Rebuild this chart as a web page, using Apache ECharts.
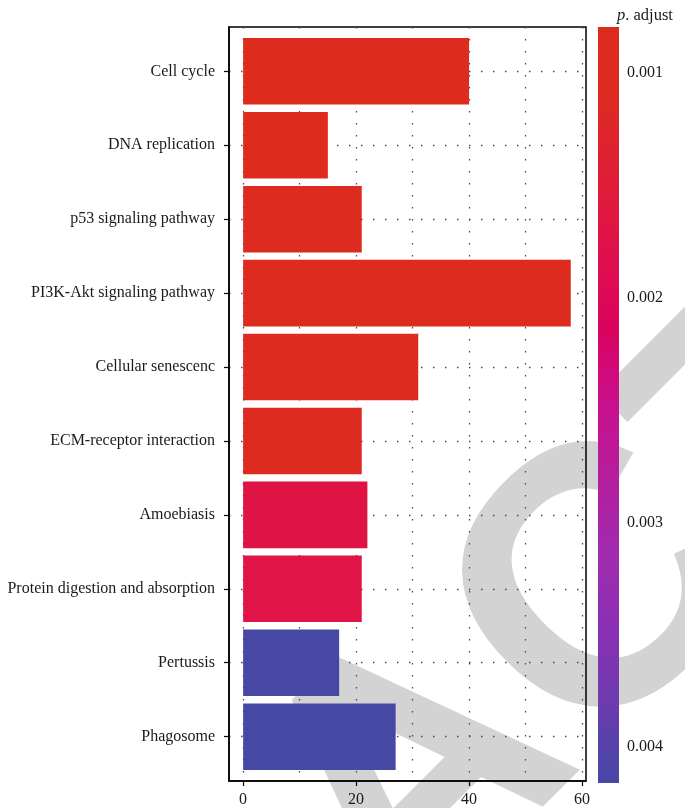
<!DOCTYPE html>
<html>
<head>
<meta charset="utf-8">
<script src="https://cdn.jsdelivr.net/npm/echarts@6/dist/echarts.min.js"></script>
<style>
html,body{margin:0;padding:0;background:#fff;}
#chart{width:685px;height:808px;}
</style>
</head>
<body>
<div id="chart"></div>
<script>
// ---- data ----
const categories = ['Cell cycle','DNA replication','p53 signaling pathway','PI3K-Akt signaling pathway','Cellular senescenc','ECM-receptor interaction','Amoebiasis','Protein digestion and absorption','Pertussis','Phagosome'];
const counts = [40, 15, 21, 58, 31, 21, 22, 21, 17, 27];
const pAdjust = [0.00080, 0.00082, 0.00085, 0.00088, 0.00100, 0.00105, 0.00170, 0.00172, 0.00414, 0.00416];
const xTickValues = [0, 20, 40, 60];
const xGridValues = [0, 10, 20, 30, 40, 50, 60];
const pTickValues = [0.001, 0.002, 0.003, 0.004];
const pRange = [0.000796, 0.00416];
const xRange = [-2.5, 60.7];
const palette = ['#DD2C1E','#DD2A22','#DF1E36','#E0104B','#DA035E','#C8108E','#B41E9E','#A02CAE','#8A30B4','#6A3CAD','#4549A5'];

const serif = '"Liberation Serif", "DejaVu Serif", serif';
const rows = categories.map((c, i) => [counts[i], i + 1, pAdjust[i]]);
const catTicks = categories.map((c, i) => i + 1);

const chart = echarts.init(document.getElementById('chart'), null, {renderer: 'canvas'});
const dotted = {color: '#4a4a4a', width: 1.3, type: [1.5, 10.5]};

const option = {
  animation: false,
  backgroundColor: '#fff',
  graphic: [{
    type: 'text', z: -100, silent: true,
    x: 421, y: 785, rotation: Math.PI / 4,
    style: {text: 'RETRACTED', fill: '#d3d3d3', font: 'bold 368px "Liberation Sans", Arial, sans-serif', textAlign: 'center', textVerticalAlign: 'middle'}
  }],
  title: {
    text: '{i|p}. adjust', left: 612, top: 2,
    textStyle: {fontFamily: serif, fontSize: 16.5, fontWeight: 'normal', color: '#1a1a1a',
      rich: {i: {fontFamily: serif, fontSize: 16.5, fontStyle: 'italic', color: '#1a1a1a'}}}
  },
  visualMap: {
    show: false, type: 'continuous', seriesIndex: 0, dimension: 2,
    min: pRange[0], max: pRange[1], inRange: {color: palette}
  },
  grid: [
    {left: 229, top: 27, width: 357, height: 755, show: true, borderColor: '#000', borderWidth: 1.5, backgroundColor: 'transparent'},
    {left: 598, top: 27, width: 21, height: 756, show: false}
  ],
  xAxis: [
    {type: 'value', gridIndex: 0, min: xRange[0], max: xRange[1],
      axisLine: {show: true, onZero: false, lineStyle: {color: '#000', width: 1.5}},
      axisTick: {show: true, customValues: xTickValues, length: 5, lineStyle: {color: '#000', width: 1.2}},
      axisLabel: {customValues: xTickValues, margin: 11, fontFamily: serif, fontSize: 16, color: '#1a1a1a'},
      splitLine: {show: false}},
    {type: 'value', gridIndex: 0, min: xRange[0], max: xRange[1], position: 'bottom',
      axisLine: {show: false, onZero: false}, axisLabel: {show: false},
      axisTick: {show: false, customValues: xGridValues},
      splitLine: {show: true, lineStyle: dotted}},
    {type: 'value', gridIndex: 1, min: 0, max: 1, show: false}
  ],
  yAxis: [
    {type: 'value', gridIndex: 0, min: 0.4, max: 10.6, inverse: true,
      axisLine: {show: true, onZero: false, lineStyle: {color: '#000', width: 1.5}},
      axisTick: {show: true, customValues: catTicks, length: 5, lineStyle: {color: '#000', width: 1.2}},
      axisLabel: {customValues: catTicks, margin: 14, fontFamily: serif, fontSize: 16, color: '#1a1a1a',
        formatter: v => categories[Math.round(v) - 1] || ''},
      splitLine: {show: true, lineStyle: dotted}},
    {type: 'value', gridIndex: 1, min: pRange[0], max: pRange[1], inverse: true, position: 'right',
      axisLine: {show: false, onZero: false},
      axisTick: {show: true, inside: true, customValues: pTickValues, length: 4, lineStyle: {color: '#fff', width: 1.2}},
      axisLabel: {customValues: pTickValues, margin: 8, fontFamily: serif, fontSize: 16, color: '#1a1a1a',
        formatter: v => v.toFixed(3)},
      splitLine: {show: false}},
    {type: 'value', gridIndex: 1, min: pRange[0], max: pRange[1], inverse: true, position: 'left',
      axisLine: {show: false, onZero: false}, axisLabel: {show: false},
      axisTick: {show: true, inside: true, customValues: pTickValues, length: 4, lineStyle: {color: '#fff', width: 1.2}},
      splitLine: {show: false}}
  ],
  series: [
    {
      type: 'custom', xAxisIndex: 0, yAxisIndex: 0, z: 3,
      encode: {x: 0, y: 1},
      data: rows,
      renderItem: function (params, api) {
        const v = api.value(0), y = api.value(1);
        const p0 = api.coord([0, y - 0.45]);
        const p1 = api.coord([v, y + 0.45]);
        return {type: 'rect', shape: {x: p0[0], y: p0[1], width: p1[0] - p0[0], height: p1[1] - p0[1]},
          style: {fill: api.visual('color')}};
      }
    },
    {
      type: 'custom', xAxisIndex: 2, yAxisIndex: 1, z: 3, silent: true,
      data: [[0, pRange[0], 1, pRange[1]]],
      renderItem: function (params, api) {
        const a = api.coord([api.value(0), api.value(1)]);
        const b = api.coord([api.value(2), api.value(3)]);
        const stops = palette.map((c, i) => ({offset: i / (palette.length - 1), color: c}));
        return {type: 'rect', shape: {x: a[0], y: a[1], width: b[0] - a[0], height: b[1] - a[1]},
          style: {fill: new echarts.graphic.LinearGradient(0, 0, 0, 1, stops)}};
      }
    }
  ]
};
chart.setOption(option);
</script>
</body>
</html>
